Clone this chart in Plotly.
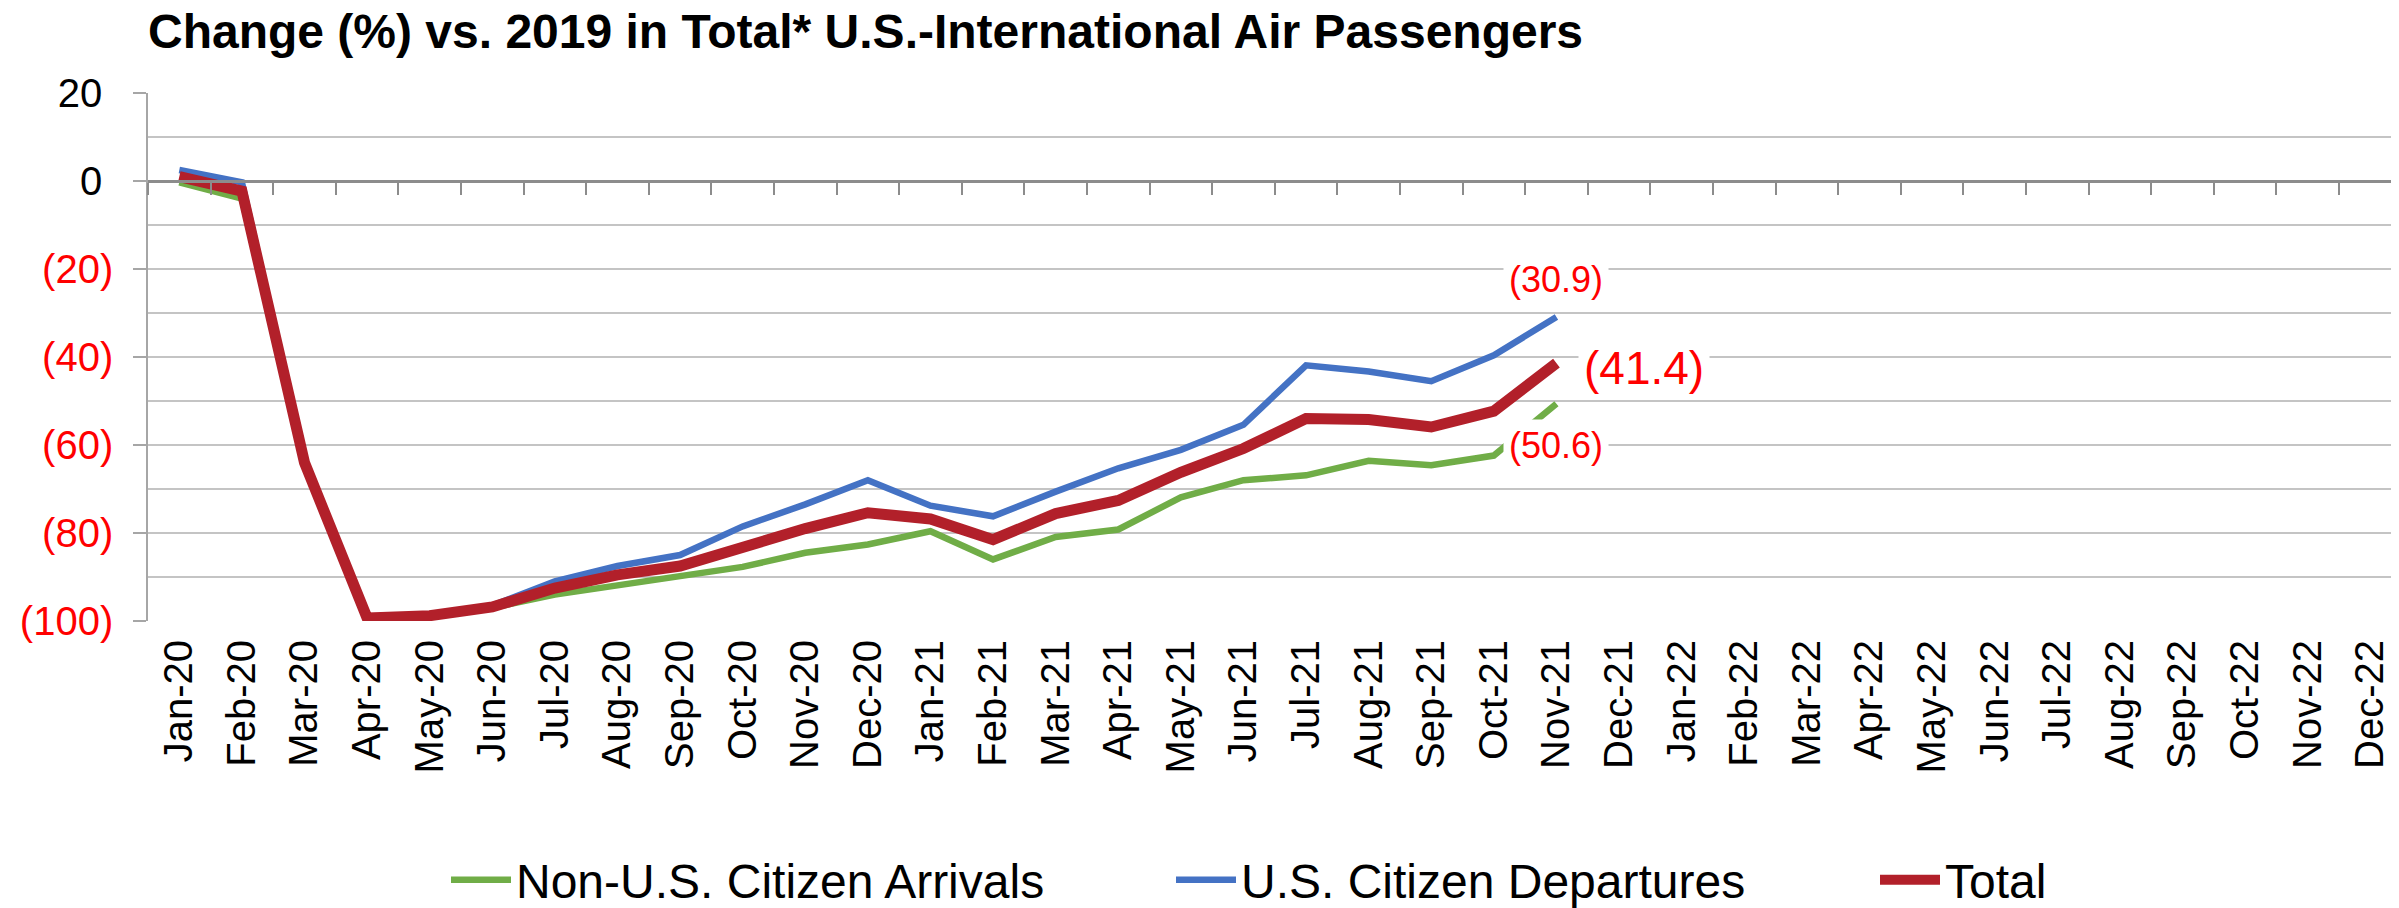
import plotly.graph_objects as go

months = ["Jan-20", "Feb-20", "Mar-20", "Apr-20", "May-20", "Jun-20", "Jul-20", "Aug-20",
          "Sep-20", "Oct-20", "Nov-20", "Dec-20", "Jan-21", "Feb-21", "Mar-21", "Apr-21",
          "May-21", "Jun-21", "Jul-21", "Aug-21", "Sep-21", "Oct-21", "Nov-21", "Dec-21",
          "Jan-22", "Feb-22", "Mar-22", "Apr-22", "May-22", "Jun-22", "Jul-22", "Aug-22",
          "Sep-22", "Oct-22", "Nov-22", "Dec-22"]

non_us_arrivals = [-0.3, -4.0, -64.5, -99.3, -98.9, -97.0, -94.0, -91.9, -90.0, -87.7, -84.5, -82.6,
                   -79.6, -86.0, -80.9, -79.2, -71.9, -68.0, -66.9, -63.6, -64.6, -62.4, -50.6]
us_departures = [2.5, -0.3, -63.5, -99.2, -98.7, -96.5, -91.0, -87.5, -85.0, -78.5, -73.5, -68.0,
                 -73.8, -76.2, -70.6, -65.3, -61.1, -55.4, -41.9, -43.3, -45.5, -39.6, -30.9]
total = [1.0, -2.3, -64.0, -99.3, -98.8, -96.8, -92.5, -89.5, -87.5, -83.0, -79.0, -75.4,
         -76.8, -81.5, -75.6, -72.6, -66.2, -60.8, -54.0, -54.2, -55.9, -52.3, -41.4]

y_ticks = [20, 0, -20, -40, -60, -80, -100]

FONT = "Liberation Sans, Arial, sans-serif"
GREEN = "#70AD47"
BLUE = "#4472C4"
RED = "#B2202A"
LABEL_RED = "#FF0000"

# the page body has an 8px margin; the figure is sized to fill the rest of the window
W, H, OFF = 2391, 900, 8


def pad(series):
    return series + [None] * (len(months) - len(series))


def tick_text(v):
    if v < 0:
        return f'<span style="color:{LABEL_RED}">({abs(v)})</span>'
    return f"{v}\u00a0"


def paren(v):
    return f"({abs(v):.1f})"


fig = go.Figure()
fig.add_trace(go.Scatter(x=months, y=pad(non_us_arrivals), mode="lines",
                         name="Non-U.S. Citizen Arrivals",
                         line=dict(color=GREEN, width=6.5), legendwidth=650))
fig.add_trace(go.Scatter(x=months, y=pad(us_departures), mode="lines",
                         name="U.S. Citizen Departures",
                         line=dict(color=BLUE, width=6.5), legendwidth=629))
fig.add_trace(go.Scatter(x=months, y=pad(total), mode="lines",
                         name="Total",
                         line=dict(color=RED, width=11)))
# helper trace so the zero-crossing category axis (ticks between months) is drawn
fig.add_trace(go.Scatter(x=[], y=[], xaxis="x2", showlegend=False, hoverinfo="skip"))

last = len(total) - 1
fig.add_annotation(x=months[last], y=us_departures[last], text=paren(us_departures[last]),
                   showarrow=False, yshift=37, xanchor="center", yanchor="middle",
                   font=dict(family=FONT, size=36, color=LABEL_RED), bgcolor="white", borderpad=5)
fig.add_annotation(x=months[last], y=non_us_arrivals[last], text=paren(non_us_arrivals[last]),
                   showarrow=False, yshift=-42, xanchor="center", yanchor="middle",
                   font=dict(family=FONT, size=36, color=LABEL_RED), bgcolor="white", borderpad=5)
fig.add_annotation(x=months[last], y=total[last], text=paren(total[last]),
                   showarrow=False, xshift=22, yshift=-5, xanchor="left", yanchor="middle",
                   font=dict(family=FONT, size=46, color=LABEL_RED), bgcolor="white", borderpad=5)

n = len(months)
x_range = [-0.5, n - 0.54]

fig.update_layout(
    width=W, height=H,
    margin=dict(l=148 - OFF, r=0, t=93 - OFF, b=287),
    paper_bgcolor="white", plot_bgcolor="white",
    font=dict(family=FONT, color="black"),
    title=dict(text="<b>Change (%) vs. 2019 in Total* U.S.-International Air Passengers</b>",
               x=(148 - OFF) / W, xanchor="left", xref="container",
               y=1 - (31 - OFF) / H, yanchor="middle", yref="container",
               font=dict(family=FONT, size=48, color="black")),
    xaxis=dict(type="category", categoryorder="array", categoryarray=months,
               range=x_range, showgrid=False, showline=False, zeroline=False,
               ticks="", tickangle=-90, ticklabelstandoff=10,
               tickfont=dict(family=FONT, size=40, color="black")),
    xaxis2=dict(overlaying="x", anchor="free", position=100 / 120, range=x_range,
                tickmode="array", tickvals=[i - 0.5 for i in range(n)],
                showticklabels=False, showgrid=False, zeroline=False,
                showline=True, linecolor="#8C8C8C", linewidth=2.5,
                ticks="outside", ticklen=12, tickwidth=2, tickcolor="#8C8C8C"),
    yaxis=dict(range=[-100, 20], tickmode="array", tickvals=y_ticks,
               ticktext=[tick_text(v) for v in y_ticks],
               showgrid=True, gridcolor="#C4C4C4", gridwidth=2,
               minor=dict(dtick=10, tick0=0, showgrid=True, gridcolor="#C4C4C4", gridwidth=2, ticks=""),
               zeroline=False, showline=True, linecolor="#A6A6A6", linewidth=1.5,
               ticks="outside", ticklen=13, tickwidth=1.5, tickcolor="#A6A6A6",
               ticklabelstandoff=12,
               tickfont=dict(family=FONT, size=40, color="black")),
    showlegend=True,
    legend=dict(orientation="h", xref="container", yref="container",
                x=(446 - OFF) / W, xanchor="left", y=1 - (880 - OFF) / H, yanchor="middle",
                itemwidth=60,
                font=dict(family=FONT, size=48, color="black"),
                bgcolor="rgba(0,0,0,0)", traceorder="normal"),
)

fig.write_html("out.html")
